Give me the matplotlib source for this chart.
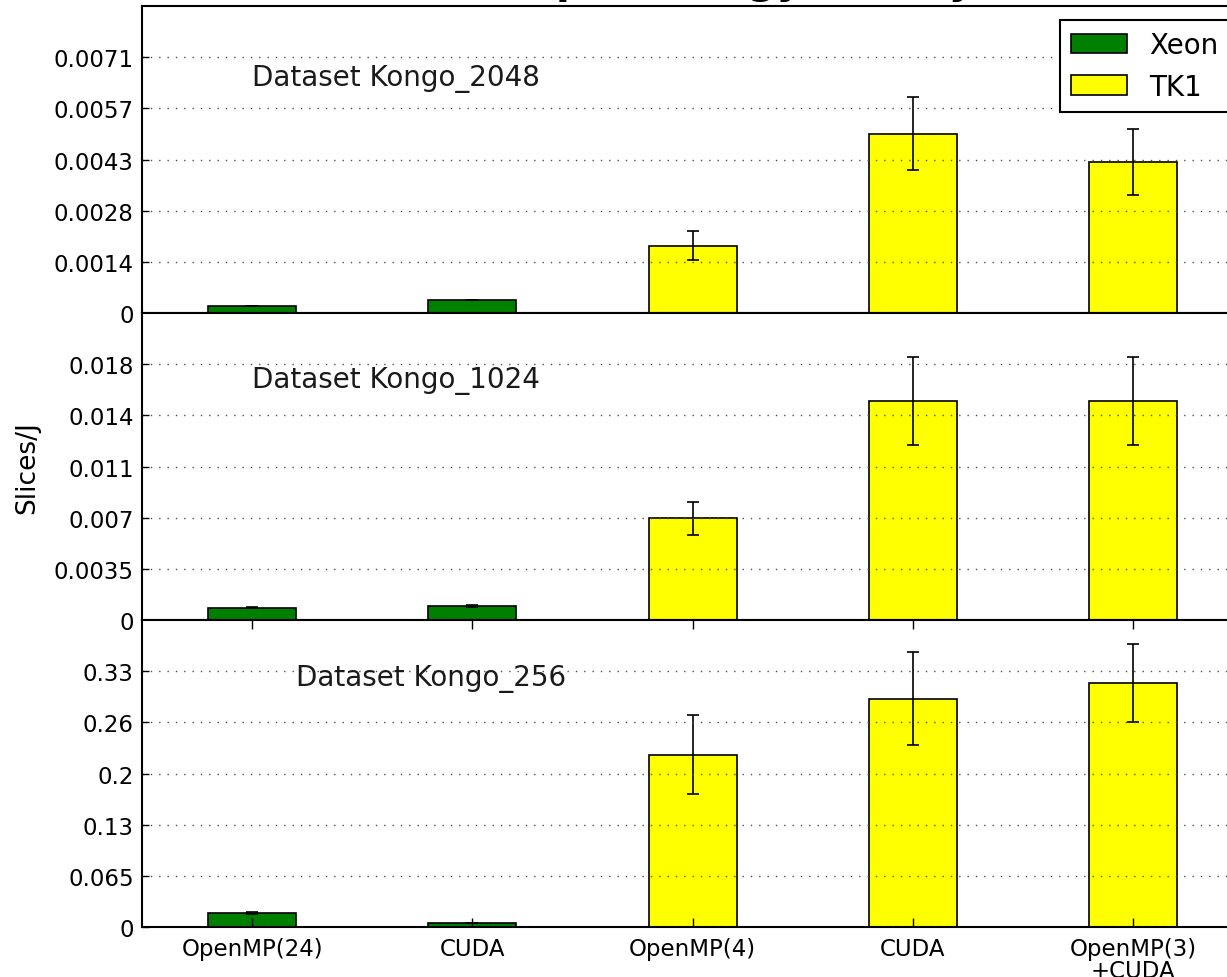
import matplotlib
matplotlib.use("Agg")
import matplotlib.pyplot as plt
from matplotlib.patches import Patch

# ── Data ──────────────────────────────────────────────────────────────────────
categories = ["OpenMP(24)", "CUDA", "OpenMP(4)", "CUDA", "OpenMP(3)\n+CUDA"]
platforms = ["Xeon", "Xeon", "TK1", "TK1", "TK1"]

datasets = ["Dataset Kongo_2048", "Dataset Kongo_1024", "Dataset Kongo_256"]

kongo_2048 = [0.00019, 0.00036, 0.00186, 0.00497, 0.00418]
kongo_2048_err = [0.000005, 0.00001, 0.0004, 0.00100, 0.00092]

kongo_1024 = [0.00084, 0.00094, 0.00695, 0.0150, 0.0150]
kongo_1024_err = [0.00002, 0.00008, 0.0011, 0.0030, 0.0030]

kongo_256 = [0.0177, 0.005, 0.219, 0.290, 0.310]
kongo_256_err = [0.0008, 0.0, 0.050, 0.059, 0.049]

ylims = [0.0085, 0.021, 0.39]
yticks_2048 = [0, 0.0085 / 6, 2 * 0.0085 / 6, 3 * 0.0085 / 6, 4 * 0.0085 / 6, 5 * 0.0085 / 6]
yticks_1024 = [0, 0.0035, 0.007, 0.0105, 0.014, 0.0175]
yticks_256 = [0, 0.065, 0.13, 0.195, 0.26, 0.325]
ylabels_2048 = ["0", "0.0014", "0.0028", "0.0043", "0.0057", "0.0071"]
ylabels_1024 = ["0", "0.0035", "0.007", "0.011", "0.014", "0.018"]
ylabels_256 = ["0", "0.065", "0.13", "0.2", "0.26", "0.33"]

# where each "Dataset ..." label sits (data coords, left/baseline)
label_x = [0.0, 0.0, 0.2]
label_y = [0.00632, 0.01594, 0.307]

COLORS = {"Xeon": "#008000", "TK1": "#ffff00"}
TICK_FS = 16.5
BIG_FS = 20

values = [kongo_2048, kongo_1024, kongo_256]
errors = [kongo_2048_err, kongo_1024_err, kongo_256_err]
yticks = [yticks_2048, yticks_1024, yticks_256]
ylabels = [ylabels_2048, ylabels_1024, ylabels_256]

# ── Figure ────────────────────────────────────────────────────────────────────
fig = plt.figure(figsize=(12.27, 9.78), dpi=100, facecolor="white")
gs = fig.add_gridspec(3, 1, left=0.1157, right=1.0134, top=0.9928,
                      bottom=0.0511, hspace=0)

x = list(range(len(categories)))
axes = []
for i in range(3):
    ax = fig.add_subplot(gs[i])
    axes.append(ax)
    for plat in ["Xeon", "TK1"]:
        idx = [k for k, p in enumerate(platforms) if p == plat]
        ax.bar([x[k] for k in idx], [values[i][k] for k in idx], width=0.4,
               color=COLORS[plat], edgecolor="black", linewidth=1.2,
               yerr=[errors[i][k] for k in idx],
               error_kw=dict(ecolor="black", elinewidth=1.2, capsize=4.3,
                             capthick=1.2),
               label=plat)
    ax.set_xlim(-0.5, 4.5)
    ax.set_ylim(0, ylims[i])
    ax.set_yticks(yticks[i])
    ax.set_yticklabels(ylabels[i])
    ax.set_axisbelow(False)
    ax.yaxis.grid(True, linestyle=(0, (1, 5)), color="0.3", linewidth=1.0)
    ax.tick_params(axis="y", direction="in", length=5, width=1, left=True,
                   right=True, labelsize=TICK_FS, pad=6)
    for sp in ax.spines.values():
        sp.set_linewidth(1.5)
    ax.text(label_x[i], label_y[i], datasets[i], fontsize=BIG_FS,
            ha="left", va="baseline", color="#1a1a1a")
    if i < 2:
        ax.set_xticks([])
    else:
        ax.set_xticks(x)
        ax.set_xticklabels(categories, fontsize=TICK_FS, linespacing=0.95)
        ax.tick_params(axis="x", direction="in", length=6.5, width=1,
                       top=True, bottom=True, pad=7)

axes[1].set_ylabel("Slices/J", fontsize=19)
axes[1].yaxis.set_label_coords(-0.092, 0.5)

handles = [Patch(facecolor=COLORS[p], edgecolor="black", linewidth=1.2)
           for p in ["Xeon", "TK1"]]
leg = axes[0].legend(handles, ["Xeon", "TK1"], loc="upper right",
                     fontsize=BIG_FS, borderpad=0.4, handletextpad=0.8,
                     labelspacing=0.5, handlelength=2, fancybox=False,
                     framealpha=1, edgecolor="black", borderaxespad=0.5)
leg.get_frame().set_linewidth(1.5)

# title, mostly cropped off the top of the figure
fig.text(0.5648, 1.0068, "Slices per energy unit by", fontsize=28.8,
         fontweight="bold", ha="center", va="baseline")

fig.savefig("out.png", dpi=100, facecolor="white")
